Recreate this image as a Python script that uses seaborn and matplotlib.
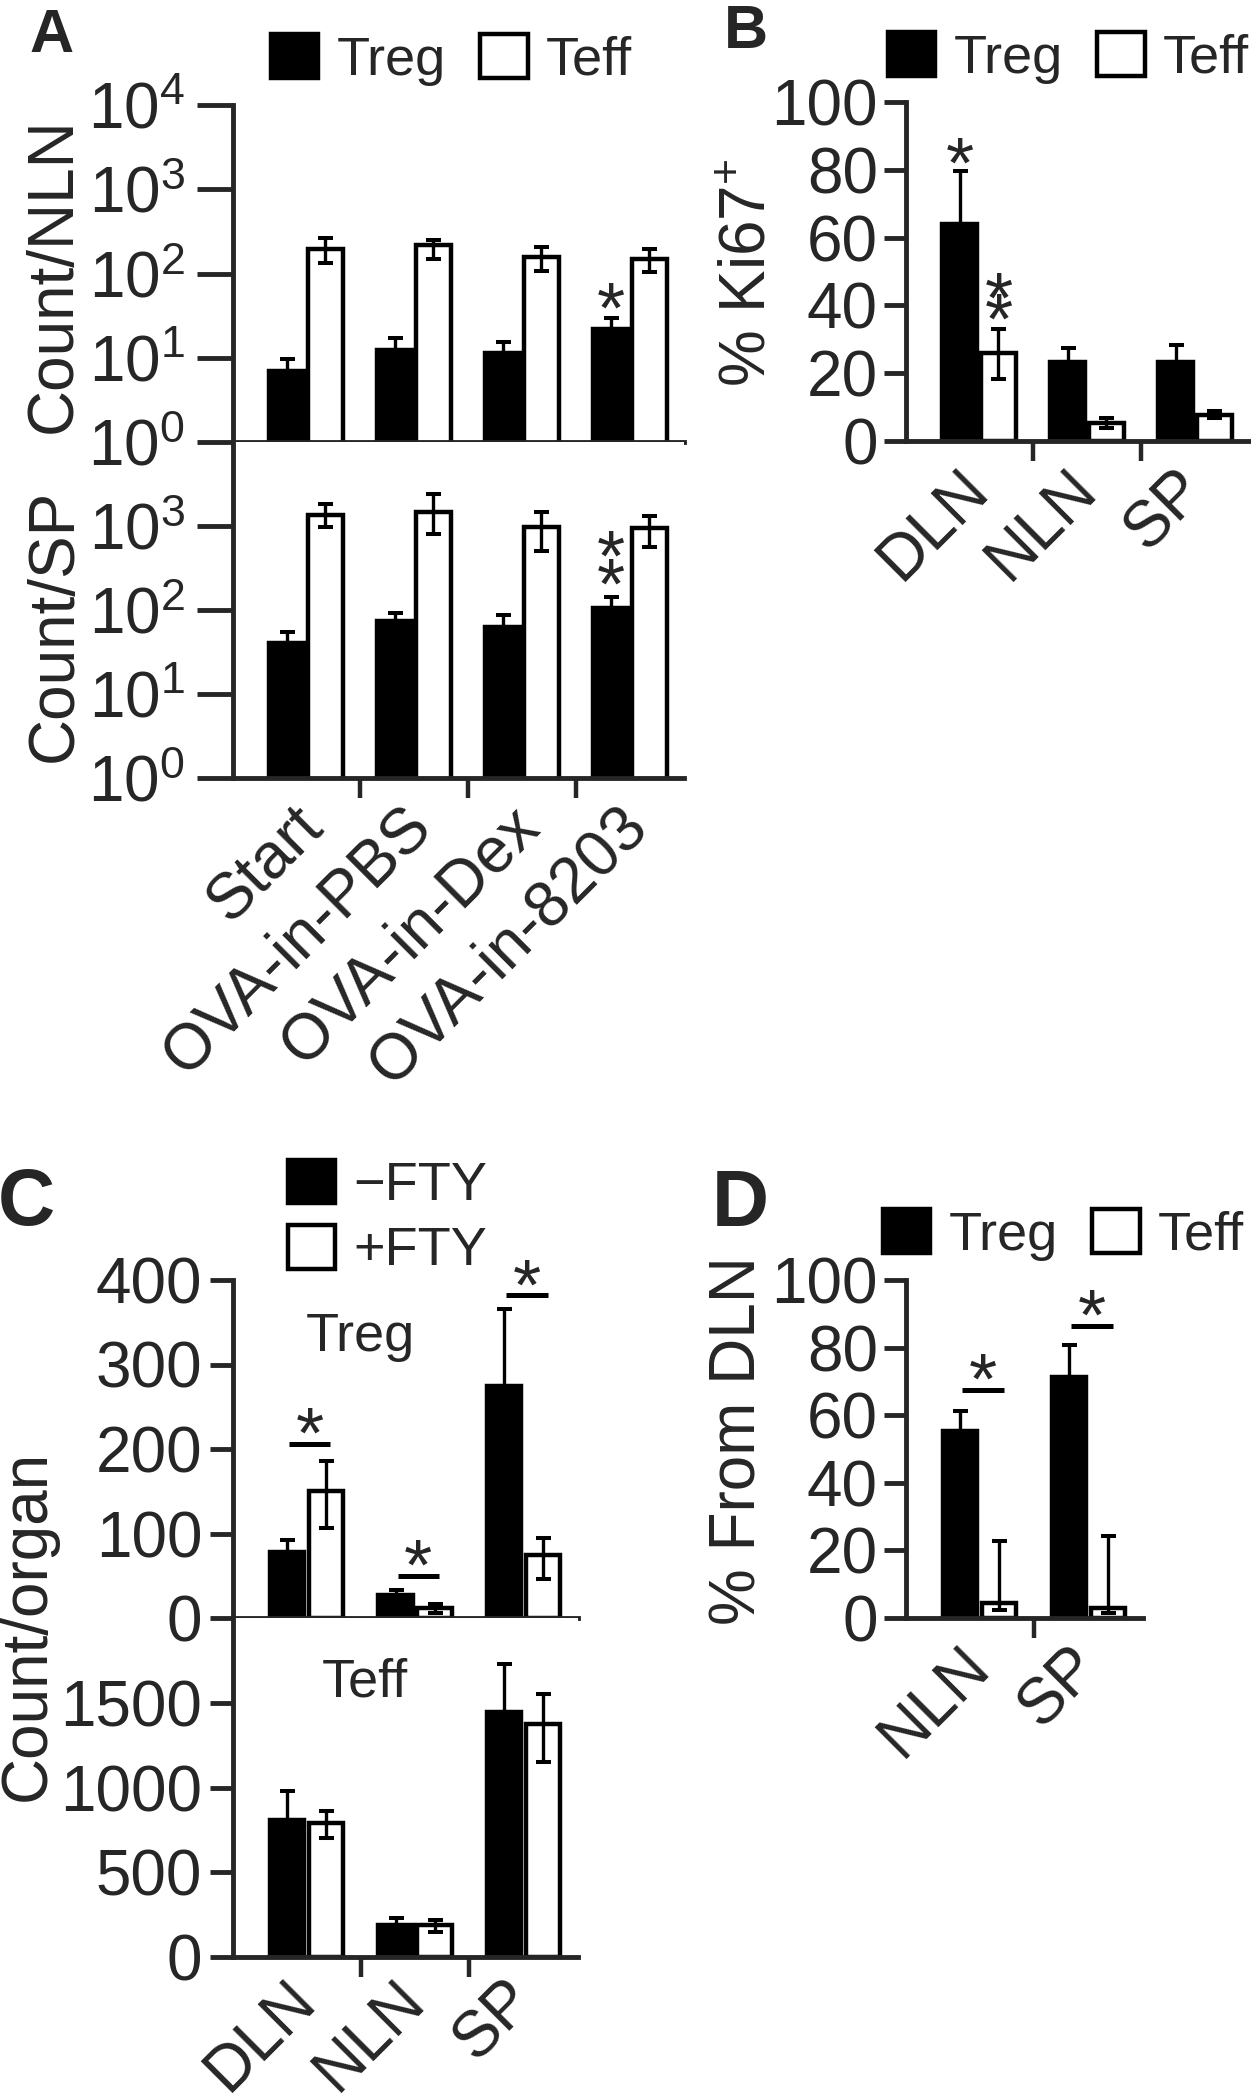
import numpy as np
import pandas as pd
import matplotlib
matplotlib.use("Agg")
import matplotlib.pyplot as plt
import seaborn as sns
from matplotlib.patches import Patch
from matplotlib.ticker import LogLocator, NullFormatter

# ---- data ----
# panel A: counts per NLN / SP (log scale)
a_groups = ["Start", "OVA-in-PBS", "OVA-in-Dex", "OVA-in-8203"]
nln_treg = [7.0, 12.4, 11.5, 22.0]
nln_treg_hi = [9.7, 17.3, 15.5, 30.0]
nln_teff = [193, 215, 155, 150]
nln_teff_hi = [261, 253, 204, 193]
nln_teff_lo = [135, 147, 106, 103]
sp_treg = [40, 74, 63, 105]
sp_treg_hi = [55, 92, 87, 143]
sp_teff = [1336, 1480, 960, 935]
sp_teff_hi = [1808, 2400, 1480, 1300]
sp_teff_lo = [960, 810, 510, 570]

# panel B: % Ki67+
b_organs = ["DLN", "NLN", "SP"]
ki67_treg = [64.0, 23.3, 23.3]
ki67_treg_hi = [79.6, 27.4, 28.3]
ki67_teff = [26.0, 5.3, 7.7]
ki67_teff_hi = [33.0, 6.8, 8.8]
ki67_teff_lo = [18.3, 3.8, 6.8]

# panel C: count per organ, -FTY / +FTY
c_organs = ["DLN", "NLN", "SP"]
c_treg_minus = [78, 27, 274]
c_treg_minus_hi = [92, 33, 366]
c_treg_plus = [150, 12, 74]
c_treg_plus_hi = [186, 16.5, 95]
c_treg_plus_lo = [107, 6, 46]
c_teff_minus = [809, 189, 1446]
c_teff_minus_hi = [980, 230, 1730]
c_teff_plus = [791, 189, 1375]
c_teff_plus_hi = [862, 218, 1553]
c_teff_plus_lo = [702, 148, 1151]
c_sig_y = [206, 50, 382]

# panel D: % from DLN
d_sites = ["NLN", "SP"]
dln_treg = [55.3, 71.3]
dln_treg_hi = [61.2, 80.8]
dln_teff = [4.4, 2.9]
dln_teff_hi = [22.8, 24.3]
dln_teff_lo = [2.4, 1.4]
d_sig_y = [67.5, 86.4]

# ---- style ----
sns.set_style("ticks")
plt.rcParams["font.family"] = ["Liberation Sans", "DejaVu Sans"]
plt.rcParams["mathtext.fontset"] = "custom"
plt.rcParams["mathtext.rm"] = "Liberation Sans"
plt.rcParams["mathtext.it"] = "Liberation Sans:italic"
plt.rcParams["mathtext.bf"] = "Liberation Sans:bold"

W, H = 1251, 2100
PT = 0.72  # points per pixel at dpi 100
TICK_FS = 46
LEG_FS = 39
STAR_FS = 52

fig = plt.figure(figsize=(W / 100, H / 100), dpi=100)


def add_ax(l, t, r, b):
    return fig.add_axes([l / W, 1 - b / H, (r - l) / W, (b - t) / H])


def bars(ax, groups, first, second, labels=("Treg", "Teff")):
    n = len(groups)
    df = pd.DataFrame({
        "group": list(groups) * 2,
        "cell": [labels[0]] * n + [labels[1]] * n,
        "value": list(first) + list(second),
    })
    sns.barplot(data=df, x="group", y="value", hue="cell", hue_order=list(labels),
                palette={labels[0]: "black", labels[1]: "white"}, saturation=1,
                edgecolor="black", linewidth=3.2, width=0.72, gap=0.12,
                errorbar=None, legend=False, ax=ax)
    return [[b.get_x() + b.get_width() / 2 for b in c] for c in ax.containers[:2]]


def errs(ax, xs, mean, hi, lo=None):
    mean = np.array(mean, dtype=float)
    hi = np.array(hi, dtype=float)
    low = np.zeros_like(mean) if lo is None else mean - np.array(lo, dtype=float)
    ax.errorbar(xs, mean, yerr=[low, hi - mean], fmt="none", ecolor="black",
                elinewidth=2.4, capsize=5.4, capthick=2.9, zorder=4)


def style(ax, n, ylim, major_len, ypad, labels=None, shift=0.0, xpad=28):
    ax.set_xlim(-0.676, n - 0.5)
    ax.set_ylim(*ylim)
    sns.despine(ax=ax)
    for s in ("left", "bottom"):
        ax.spines[s].set_linewidth(3.5)
    ax.set_xlabel("")
    ax.set_ylabel("")
    ax.set_xticks(np.arange(n - 1) + 0.5, minor=True)
    ax.tick_params(axis="x", which="minor", length=20 * PT, width=3.2)
    if labels is None:
        ax.set_xticks(range(n))
        ax.tick_params(axis="x", which="both", labelbottom=False)
    else:
        ax.set_xticks(np.arange(n) + shift, labels, rotation=45, ha="right", va="center",
                      rotation_mode="anchor", fontsize=TICK_FS)
    ax.tick_params(axis="x", which="major", length=0, pad=xpad)
    ax.tick_params(axis="y", which="major", length=major_len * PT, width=3.5,
                   labelsize=TICK_FS, pad=ypad)


def log_axis(ax, ticks):
    ax.set_yscale("log")
    ax.set_ylim(1, 1e4)
    ax.set_yticks(ticks, [f"$10^{{{int(np.log10(t))}}}$" for t in ticks])
    ax.yaxis.set_minor_locator(LogLocator(base=10, subs=np.arange(2, 10)))
    ax.yaxis.set_minor_formatter(NullFormatter())
    ax.tick_params(axis="y", which="minor", length=18 * PT, width=1.6)


def star(ax, x, y, above, text="*"):
    # 'above' = pixels from (x, y) up to the centre of the asterisk
    ax.annotate(text, (x, y), xytext=(0, (above - 35) * PT), textcoords="offset points",
                ha="center", va="baseline", fontsize=STAR_FS, annotation_clip=False)


def sig_line(ax, x1, x2, y):
    ax.plot([x1 + 0.02, x2 + 0.04], [y, y], color="black", lw=3.6,
            solid_capstyle="butt", clip_on=False)
    star(ax, (x1 + x2) / 2 + 0.03, y, 21)


def legend(labels, x_left, y_center, ncol):
    handles = [Patch(facecolor="black", edgecolor="black", linewidth=3.2),
               Patch(facecolor="white", edgecolor="black", linewidth=3.2)]
    fig.legend(handles, labels, loc="center left",
               bbox_to_anchor=(x_left / W, 1 - y_center / H), ncol=ncol,
               frameon=False, fontsize=LEG_FS, handlelength=0.87, handleheight=0.87,
               handletextpad=0.34, columnspacing=0.64, borderpad=0,
               borderaxespad=0, labelspacing=0.25)


# ---- panel A ----
axA1 = add_ax(233, 105, 684, 442)
x1, x2 = bars(axA1, a_groups, nln_treg, nln_teff)
errs(axA1, x1, nln_treg, nln_treg_hi)
errs(axA1, x2, nln_teff, nln_teff_hi, nln_teff_lo)
star(axA1, x1[3], nln_treg_hi[3], 20)
log_axis(axA1, [1, 10, 100, 1000, 10000])
style(axA1, 4, (1, 1e4), 36, 8.6)

axA2 = add_ax(233, 442, 684, 778)
x1, x2 = bars(axA2, a_groups, sp_treg, sp_teff)
errs(axA2, x1, sp_treg, sp_treg_hi)
errs(axA2, x2, sp_teff, sp_teff_hi, sp_teff_lo)
star(axA2, x1[3], sp_treg_hi[3], 23)
star(axA2, x1[3], sp_treg_hi[3], 51)
log_axis(axA2, [1, 10, 100, 1000])
style(axA2, 4, (1, 1e4), 36, 8.6, a_groups, shift=0.07)

legend(["Treg", "Teff"], 271, 60, 2)
fig.text(54 / W, 1 - 275 / H, "Count/NLN", rotation=90, ha="center", va="center", fontsize=TICK_FS)
fig.text(55 / W, 1 - 625 / H, "Count/SP", rotation=90, ha="center", va="center", fontsize=TICK_FS)
fig.text(52 / W, 1 - 36 / H, "A", fontsize=44, fontweight="bold", ha="center", va="center")

# ---- panel B ----
axB = add_ax(906, 102, 1249, 441)
x1, x2 = bars(axB, b_organs, ki67_treg, ki67_teff)
errs(axB, x1, ki67_treg, ki67_treg_hi)
errs(axB, x2, ki67_teff, ki67_teff_hi, ki67_teff_lo)
star(axB, x1[0], ki67_treg_hi[0], 19)
star(axB, x2[0], ki67_teff_hi[0], 21)
star(axB, x2[0], ki67_teff_hi[0], 42)
axB.set_yticks([0, 20, 40, 60, 80, 100])
style(axB, 3, (0, 100), 22, 4.5, b_organs)
legend(["Treg", "Teff"], 888, 58, 2)
fig.text(748 / W, 1 - 273 / H, "% Ki67$^{+}$", rotation=90, ha="center", va="center", fontsize=TICK_FS)
fig.text(746 / W, 1 - 33 / H, "B", fontsize=44, fontweight="bold", ha="center", va="center")

# ---- panel C ----
axC1 = add_ax(233, 1280, 578, 1618)
x1, x2 = bars(axC1, c_organs, c_treg_minus, c_treg_plus, ("\u2212FTY", "+FTY"))
errs(axC1, x1, c_treg_minus, c_treg_minus_hi)
errs(axC1, x2, c_treg_plus, c_treg_plus_hi, c_treg_plus_lo)
for i, y in enumerate(c_sig_y):
    sig_line(axC1, x1[i], x2[i], y)
axC1.set_yticks([0, 100, 200, 300, 400])
style(axC1, 3, (0, 400), 23, 5.5)
axC1.text(0.5, 316, "Treg", ha="center", va="baseline", fontsize=LEG_FS)

axC2 = add_ax(233, 1618, 578, 1957)
x1, x2 = bars(axC2, c_organs, c_teff_minus, c_teff_plus, ("\u2212FTY", "+FTY"))
errs(axC2, x1, c_teff_minus, c_teff_minus_hi)
errs(axC2, x2, c_teff_plus, c_teff_plus_hi, c_teff_plus_lo)
axC2.set_yticks([0, 500, 1000, 1500])
style(axC2, 3, (0, 2000), 23, 5.5, c_organs, xpad=24)
axC2.text(0.54, 1535, "Teff", ha="center", va="baseline", fontsize=LEG_FS)

legend(["\u2212FTY", "+FTY"], 288, 1218, 1)
fig.text(28 / W, 1 - 1625 / H, "Count/organ", rotation=90, ha="center", va="center", fontsize=TICK_FS)
fig.text(26 / W, 1 - 1205 / H, "C", fontsize=57, fontweight="bold", ha="center", va="center")

# ---- panel D ----
axD = add_ax(906, 1280, 1143, 1618)
x1, x2 = bars(axD, d_sites, dln_treg, dln_teff)
errs(axD, x1, dln_treg, dln_treg_hi)
errs(axD, x2, dln_teff, dln_teff_hi, dln_teff_lo)
for i, y in enumerate(d_sig_y):
    sig_line(axD, x1[i], x2[i], y)
axD.set_yticks([0, 20, 40, 60, 80, 100])
style(axD, 2, (0, 100), 22, 4.5, d_sites)
legend(["Treg", "Teff"], 883, 1235, 2)
fig.text(739 / W, 1 - 1441 / H, "% From DLN", rotation=90, ha="center", va="center", fontsize=TICK_FS)
fig.text(740 / W, 1 - 1206 / H, "D", fontsize=57, fontweight="bold", ha="center", va="center")

fig.savefig("out.png", dpi=100, facecolor="white")
